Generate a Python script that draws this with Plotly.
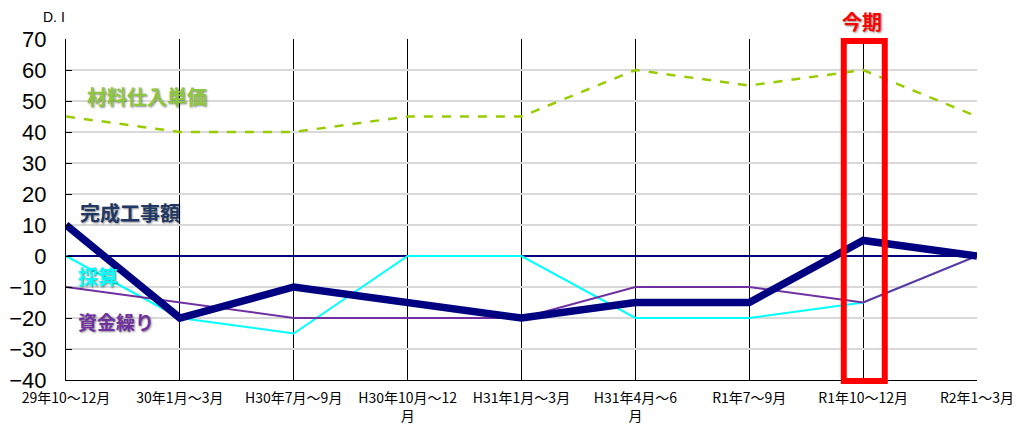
import plotly.graph_objects as go

categories = ["29年10～12月", "30年1月～3月", "H30年7月～9月", "H30年10月～12<br>月",
              "H31年1月～3月", "H31年4月～6<br>月", "R1年7～9月", "R1年10～12月", "R2年1～3月"]
kansei = [10, -20, -10, -15, -20, -15, -15, 5, 0]
saisan = [0, -20, -25, 0, 0, -20, -20, -15, 0]
shikin = [-10, -15, -20, -20, -20, -10, -10, -15, 0]
zairyo = [45, 40, 40, 45, 45, 60, 55, 60, 45]
y_ticks = [70, 60, 50, 40, 30, 20, 10, 0, -10, -20, -30, -40]

xs = list(range(len(categories)))
JP = "Noto Sans CJK JP, sans-serif"
shadow = "1px 1px 2px rgba(0,0,0,0.45)"

fig = go.Figure()
fig.add_trace(go.Scatter(x=xs, y=zairyo, mode="lines",
                         line=dict(color="#99cc00", width=2.5, dash="dash")))
fig.add_trace(go.Scatter(x=xs, y=saisan, mode="lines",
                         line=dict(color="#00ffff", width=2)))
fig.add_trace(go.Scatter(x=xs, y=shikin, mode="lines",
                         line=dict(color="#7030a0", width=2)))
fig.add_trace(go.Scatter(x=xs, y=kansei, mode="lines",
                         line=dict(color="#000080", width=7.5)))

# 今期 highlight box
fig.add_shape(type="rect", xref="x", yref="paper", x0=6.83, x1=7.19, y0=-0.003, y1=0.994,
              line=dict(color="#ff0000", width=6), fillcolor="rgba(0,0,0,0)", layer="above")

ann = [
    dict(text="材料仕入単価", x=0.165, y=51.3, color="#8dc63f", size=20),
    dict(text="完成工事額", x=0.105, y=13.9, color="#1f3864", size=20),
    dict(text="採算", x=0.085, y=-6.5, color="#00ffff", size=20),
    dict(text="資金繰り", x=0.085, y=-21, color="#7030a0", size=19),
]
for a in ann:
    fig.add_annotation(x=a["x"], y=a["y"], xref="x", yref="y", text=a["text"], showarrow=False,
                       xanchor="left", yanchor="middle",
                       font=dict(family=JP, size=a["size"], color=a["color"], weight="bold", shadow=shadow))
fig.add_annotation(x=6.99, y=1.0, xref="x", yref="paper", yshift=18, text="今期", showarrow=False,
                   xanchor="center", yanchor="middle",
                   font=dict(family=JP, size=20, color="#ff0000", weight="bold", shadow=shadow))
fig.add_annotation(x=0, y=1.0, xref="paper", yref="paper", xshift=-12, yshift=22, text="D. I",
                   showarrow=False, xanchor="center", yanchor="middle",
                   font=dict(family="Liberation Sans, Arial", size=14, color="#000000"))

fig.update_layout(
    width=1012, height=417,
    margin=dict(l=58, r=43, t=31, b=45),
    plot_bgcolor="white", paper_bgcolor="white",
    showlegend=False,
    xaxis=dict(range=[0, 8], tickvals=xs, ticktext=categories, showgrid=True, automargin=False,
               gridcolor="#000000", gridwidth=1, showline=True, linecolor="#000000", linewidth=1,
               zeroline=False, ticks="", tickfont=dict(family=JP, size=14, color="#000000"),
               ticklabelstandoff=5),
    yaxis=dict(range=[-40, 70], tickvals=y_ticks, showgrid=True, gridcolor="#d9d9d9", gridwidth=2,
               automargin=False,
               zeroline=True, zerolinecolor="#000080", zerolinewidth=2,
               showline=True, linecolor="#000000", linewidth=1, ticks="inside", ticklen=6,
               tickcolor="#000000", tickfont=dict(family="Liberation Sans, Arial", size=22, color="#000000"),
               ticklabelstandoff=14),
)

fig.write_html("out.html")
